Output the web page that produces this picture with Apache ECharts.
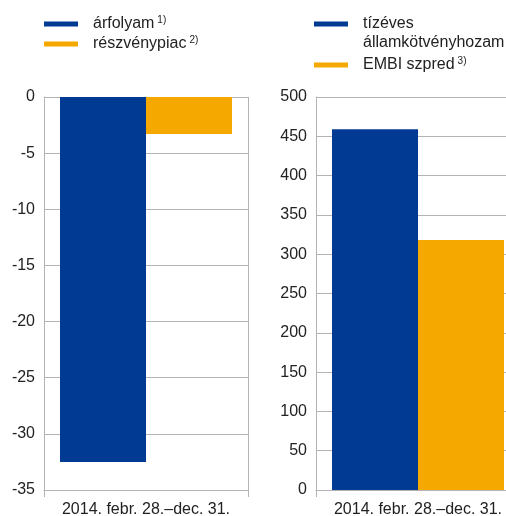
<!DOCTYPE html>
<html>
<head>
<meta charset="utf-8">
<script src="https://cdn.jsdelivr.net/npm/echarts@6/dist/echarts.min.js"></script>
<style>
  html, body { margin: 0; padding: 0; background: #fff; }
  #chart { width: 506px; height: 516px; }
</style>
</head>
<body>
<div id="chart"></div>
<script>
var categories = ['2014. febr. 28.–dec. 31.']

// left panel: percent change
var leftNames = ['árfolyam', 'részvénypiac']
var leftSup = ['1)', '2)']
var arfolyam = [-32.5]
var reszvenypiac = [-3.3]
var leftTicks = { min: -35, max: 0, interval: 5 }

// right panel: basis points
var rightNames = ['tízéves', 'EMBI szpred']
var rightSup = ['', '3)']
var tizeves = [459]
var embi = [318]
var rightTicks = { min: 0, max: 500, interval: 50 }

var BLUE = '#003a92'
var ORANGE = '#f5a800'
var GRAY = '#b3b3b3'
var FONT = 'Liberation Sans'

function supMap (names, sups) {
  var m = {}
  names.forEach(function (n, i) { m[n] = sups[i] })
  return m
}
var sups = Object.assign(supMap(leftNames, leftSup), supMap(rightNames, rightSup))

function legend (left, top, names, gap) {
  return {
    orient: 'vertical',
    left: left,
    top: top,
    padding: 0,
    data: names,
    icon: 'rect',
    itemWidth: 34,
    itemHeight: 5,
    itemGap: gap,
    selectedMode: false,
    formatter: function (name) {
      return sups[name] ? name + '{sup|' + sups[name] + '}' : name
    },
    textStyle: {
      fontFamily: FONT,
      fontSize: 16,
      lineHeight: 18,
      color: '#222',
      padding: [0, 0, 0, 10],
      rich: {
        sup: { fontFamily: FONT, fontSize: 10, verticalAlign: 'top', lineHeight: 14, padding: [0, 0, 0, 3], color: '#222' }
      }
    }
  }
}

function xAxis (gridIndex) {
  return {
    type: 'category',
    gridIndex: gridIndex,
    data: categories,
    position: 'bottom',
    axisLine: { onZero: false, lineStyle: { color: GRAY } },
    axisTick: { show: true, length: 7, lineStyle: { color: GRAY } },
    splitLine: { show: true, lineStyle: { color: GRAY } },
    axisLabel: { margin: 12, fontFamily: FONT, fontSize: 16, color: '#222' }
  }
}

function yAxis (gridIndex, t) {
  return {
    type: 'value',
    gridIndex: gridIndex,
    min: t.min,
    max: t.max,
    interval: t.interval,
    axisLine: { show: true, lineStyle: { color: GRAY } },
    axisTick: { show: false },
    splitLine: { lineStyle: { color: GRAY } },
    axisLabel: { margin: 9, fontFamily: FONT, fontSize: 16, color: '#222' }
  }
}

function bar (name, data, color, idx) {
  return {
    name: name,
    type: 'bar',
    data: data,
    xAxisIndex: idx,
    yAxisIndex: idx,
    barWidth: 86,
    barGap: '0%',
    itemStyle: { color: color },
    emphasis: { disabled: true }
  }
}

var chart = echarts.init(document.getElementById('chart'))
chart.setOption({
  animation: false,
  backgroundColor: '#fff',
  legend: [
    legend(44, 15, leftNames, 2),
    legend(314, 15, rightNames, 23)
  ],
  graphic: [{
    type: 'text',
    left: 363,
    top: 35,
    style: { text: 'államkötvényhozam', fontFamily: FONT, fontSize: 16, fill: '#222' }
  }],
  grid: [
    { left: 44, top: 97, width: 204, height: 393, outerBoundsMode: 'none' },
    { left: 316, top: 97, width: 204, height: 393, outerBoundsMode: 'none' }
  ],
  xAxis: [xAxis(0), xAxis(1)],
  yAxis: [yAxis(0, leftTicks), yAxis(1, rightTicks)],
  series: [
    bar(leftNames[0], arfolyam, BLUE, 0),
    bar(leftNames[1], reszvenypiac, ORANGE, 0),
    bar(rightNames[0], tizeves, BLUE, 1),
    bar(rightNames[1], embi, ORANGE, 1)
  ]
})
</script>
</body>
</html>
